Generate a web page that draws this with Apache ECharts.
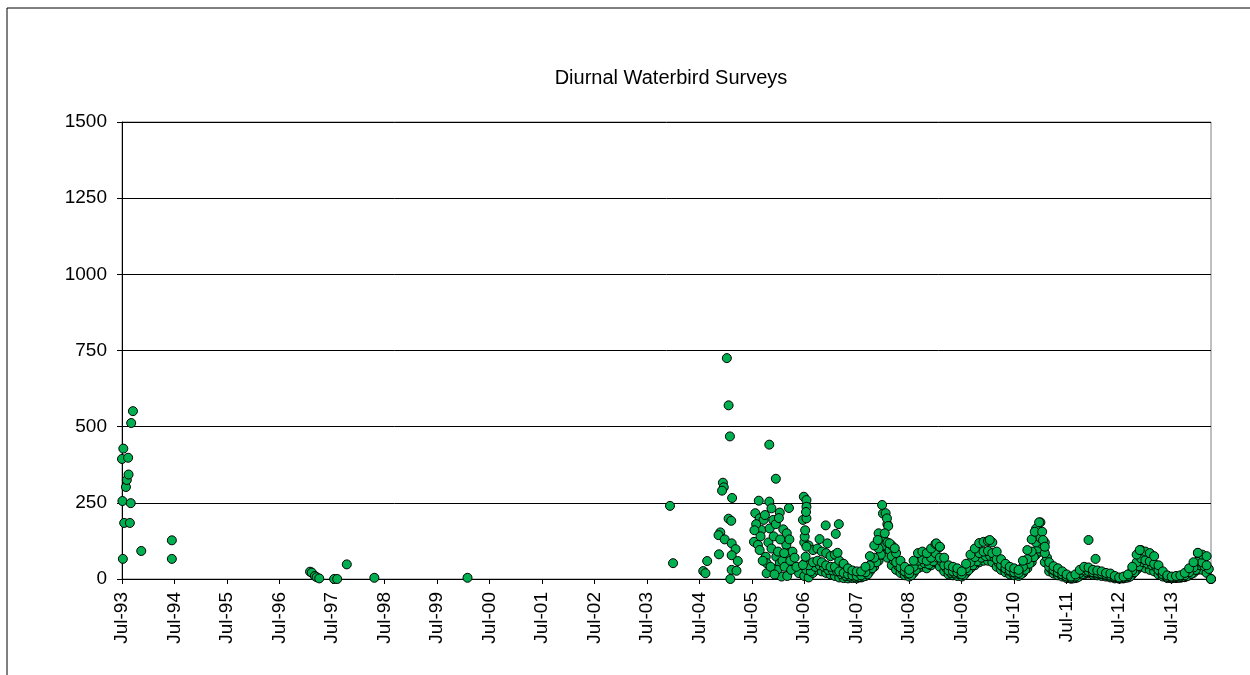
<!DOCTYPE html>
<html>
<head>
<meta charset="utf-8">
<script src="https://cdn.jsdelivr.net/npm/echarts@6/dist/echarts.min.js"></script>
<style>
html,body{margin:0;padding:0;background:#fff;}
#chart{width:1250px;height:675px;}
</style>
</head>
<body>
<div id="chart"></div>
<script>
// x values are months since Jul-1993
const titleText = 'Diurnal Waterbird Surveys';
const yTicks = [0, 250, 500, 750, 1000, 1250, 1500];
const xTickLabels = ['Jul-93','Jul-94','Jul-95','Jul-96','Jul-97','Jul-98','Jul-99','Jul-00','Jul-01','Jul-02','Jul-03','Jul-04','Jul-05','Jul-06','Jul-07','Jul-08','Jul-09','Jul-10','Jul-11','Jul-12','Jul-13'];

const points1993 = [[0,394],[0.3,428],[0.1,256],[0.5,184],[0.2,66],[0.9,302],[1.1,325],[1.4,398],[1.5,343],[1.8,184],[2.0,249],[2.1,512],[2.5,551],[4.4,92],[11.4,127],[11.4,66]];
const points1996 = [[43,24],[43.4,21],[44.1,10],[44.5,6],[45.1,2],[48.5,0],[49.2,0],[51.4,48],[57.7,4],[79,4]];
const points2003 = [[125.3,240],[126,52]];
const points2004 = [[138.7,570],[138.3,725],[139,468],[148,441],[149.5,329],[137.4,316],[137.6,301],[137.2,290],[139.5,266],[145.6,257],[148,254],[152.5,233],[148.5,232],[144.8,216],[150.4,218],[145.8,199],[146.7,194],[148.9,194],[138.7,198],[139.3,191],[136.8,153],[136.4,144],[137.8,130],[139.4,117],[140.3,98],[139.4,78],[140.8,59],[136.5,81],[133.8,59],[132.9,26],[133.4,19],[139.4,30],[140.5,27],[139.1,0],[144.5,122],[145.4,112],[146.2,161],[148.1,166],[151.2,163],[147.2,73],[149.6,73],[151.9,112],[152.3,84],[150.4,52],[147.4,52],[147.4,19],[150.8,8],[152.1,10],[149.8,30],[154.8,19],[145,180],[146,140],[147,210],[147.8,120],[148.5,100],[149,140],[149.5,180],[150,90],[150.5,130],[151,60],[151.5,40],[152,150],[152.8,60],[153,30],[153.3,90],[146.5,60],[145.8,95],[144.6,160],[148.3,40],[149.2,15],[150.2,200],[151.4,85],[152.6,130],[154.2,40],[153.8,70]];
const points2006 = [[155.7,194],[155.7,46],[155.9,270],[156.1,139],[156.5,259],[156.5,237],[156.5,199],[156.5,106],[156.3,73],[156.2,160],[156.4,220],[159.5,131],[160.9,176],[161.3,117],[163.2,148],[163.6,86],[163.9,180],[172.8,128],[173.8,243],[174.6,216],[174.9,199],[175.2,174],[174.4,150],[175.5,117],[176.7,101],[186.2,117],[187,106],[198.4,128],[209.7,186],[208.7,155],[210.4,155],[210.6,128],[211,106],[221,128],[222.6,66],[232.7,95],[246,86]];

const denseMonths = [156,157,158,159,160,161,162,163,164,165,166,167,168,169,170,171,172,173,174,175,176,177,178,179,180,181,182,183,184,185,186,187,188,189,190,191,192,193,194,195,196,197,198,199,200,201,202,203,204,205,206,207,208,209,210,211,212,213,214,215,216,217,218,219,220,221,222,223,224,225,226,227,228,229,230,231,232,233,234,235,236,237,238,239,240,241,242,243,244,245,246,247,248,249];
const denseHigh = [120,110,95,100,90,85,75,80,60,50, 35,28,25,25,40,75,110,150,215,180, 110,85,60,40,30,60,85,90,85,100, 115,105,70,45,40,35,25,50,80,100, 118,122,125,120,90,65,50,40,35,30, 60,95,130,165,186,120,55,42,35,25, 15,8,15,30,40,38,30,28,25,20, 18,10,5,8,15,40,80,95,90,85, 75,45,25,12,8,10,12,20,35,55, 85,80,75,0];
const denseMid = [50,45,55,60,55,45,40,40,25,20, 15,12,10,12,22,45,70,100,140,120, 75,55,38,25,18,40,60,65,60,70, 85,70,45,28,25,22,15,35,55,72, 85,90,92,85,65,45,35,28,22,20, 40,65,90,120,135,85,40,30,22,15, 8,4,8,20,28,26,22,20,17,14, 11,6,3,5,10,28,55,68,62,58, 50,30,15,7,5,6,8,12,22,38, 58,55,45,0];
const denseLow = [10,5,20,30,25,20,15,10,5,3, 2,3,2,5,10,25,40,60,80,70, 45,30,20,12,8,20,35,40,35,45, 55,40,25,15,12,10,8,20,35,45, 55,60,60,55,40,30,22,15,12,10, 20,35,55,80,90,55,25,18,12,8, 3,1,3,10,15,18,14,12,10,8, 5,2,1,2,5,15,30,40,35,30, 25,15,8,3,2,3,4,6,12,20, 30,30,20,0];
const halfMonths = [156.5,157.5,158.5,159.5,160.5,161.5,162.5,163.5,164.5,165.5,166.5,167.5,168.5,169.5,170.5,171.5,172.5,173.5,174.5,175.5,176.5,177.5,178.5,179.5,180.5,181.5,182.5,183.5,184.5,185.5,186.5,187.5,188.5,189.5,190.5,191.5,192.5,193.5,194.5,195.5,196.5,197.5,198.5,199.5,200.5,201.5,202.5,203.5,204.5,205.5,206.5,207.5,208.5,209.5,210.5,211.5,212.5,213.5,214.5,215.5,216.5,217.5,218.5,219.5,220.5,221.5,222.5,223.5,224.5,225.5,226.5,227.5,228.5,229.5,230.5,231.5,232.5,233.5,234.5,235.5,236.5,237.5,238.5,239.5,240.5,241.5,242.5,243.5,244.5,245.5,246.5,247.5,248.5];
const halfValues = [30,25,40,45,40,30,28,25,15,10, 8,7,6,8,15,35,55,80,110,95, 60,42,28,18,12,30,48,52,48,58, 70,55,35,20,18,16,12,28,45,58, 70,75,76,70,52,38,28,22,17,15, 30,50,72,100,112,70,32,24,17,12, 5,2,5,15,22,22,18,16,14,11, 8,4,2,4,8,22,42,55,50,45, 38,22,12,5,4,4,6,9,17,30, 45,42,33];

const data = [];
points1993.forEach(p => data.push(p));
points1996.forEach(p => data.push(p));
points2003.forEach(p => data.push(p));
points2004.forEach(p => data.push(p));
denseMonths.forEach((m, i) => data.push([m, denseLow[i]]));
halfMonths.forEach((m, i) => data.push([m, halfValues[i]]));
denseMonths.forEach((m, i) => data.push([m, denseMid[i]]));
denseMonths.forEach((m, i) => data.push([m, denseHigh[i]]));
points2006.forEach(p => data.push(p));

const chart = echarts.init(document.getElementById('chart'), null, {renderer: 'canvas'});
const FONT = 'Liberation Sans, Arial, sans-serif';
chart.setOption({
  animation: false,
  backgroundColor: '#fff',
  title: {
    text: titleText,
    left: 666, top: 63, textAlign: 'center',
    textStyle: {fontFamily: FONT, fontSize: 20, fontWeight: 'normal', color: '#000'}
  },
  graphic: [{
    type: 'rect', shape: {x: 7, y: 8, width: 1300, height: 700},
    style: {fill: 'none', stroke: '#000', lineWidth: 1}, silent: true, z: -1
  }],
  grid: {left: 122, right: 39, top: 122, bottom: 96, show: true, borderColor: '#808080', borderWidth: 1},
  xAxis: {
    type: 'value', min: 0, max: 249, interval: 12,
    axisLine: {show: true, lineStyle: {color: '#000', width: 1}},
    axisTick: {show: true, length: 5, inside: false, lineStyle: {color: '#000'}},
    splitLine: {show: false},
    axisLabel: {
      rotate: 90, margin: 13, showMaxLabel: false,
      fontFamily: FONT, fontSize: 19, color: '#000',
      formatter: v => xTickLabels[Math.round(v / 12)] || ''
    }
  },
  yAxis: {
    type: 'value', min: yTicks[0], max: yTicks[yTicks.length - 1], interval: 250,
    axisLine: {show: true, lineStyle: {color: '#000', width: 1}},
    axisTick: {show: true, length: 5, lineStyle: {color: '#000'}},
    splitLine: {show: true, lineStyle: {color: '#000', width: 1}},
    axisLabel: {margin: 15, fontFamily: FONT, fontSize: 19, color: '#000', formatter: v => String(v)}
  },
  series: [{
    type: 'scatter',
    data: data,
    symbol: 'circle',
    symbolSize: 9,
    itemStyle: {color: '#00b050', borderColor: '#000', borderWidth: 1, opacity: 1}
  }]
});
</script>
</body>
</html>
